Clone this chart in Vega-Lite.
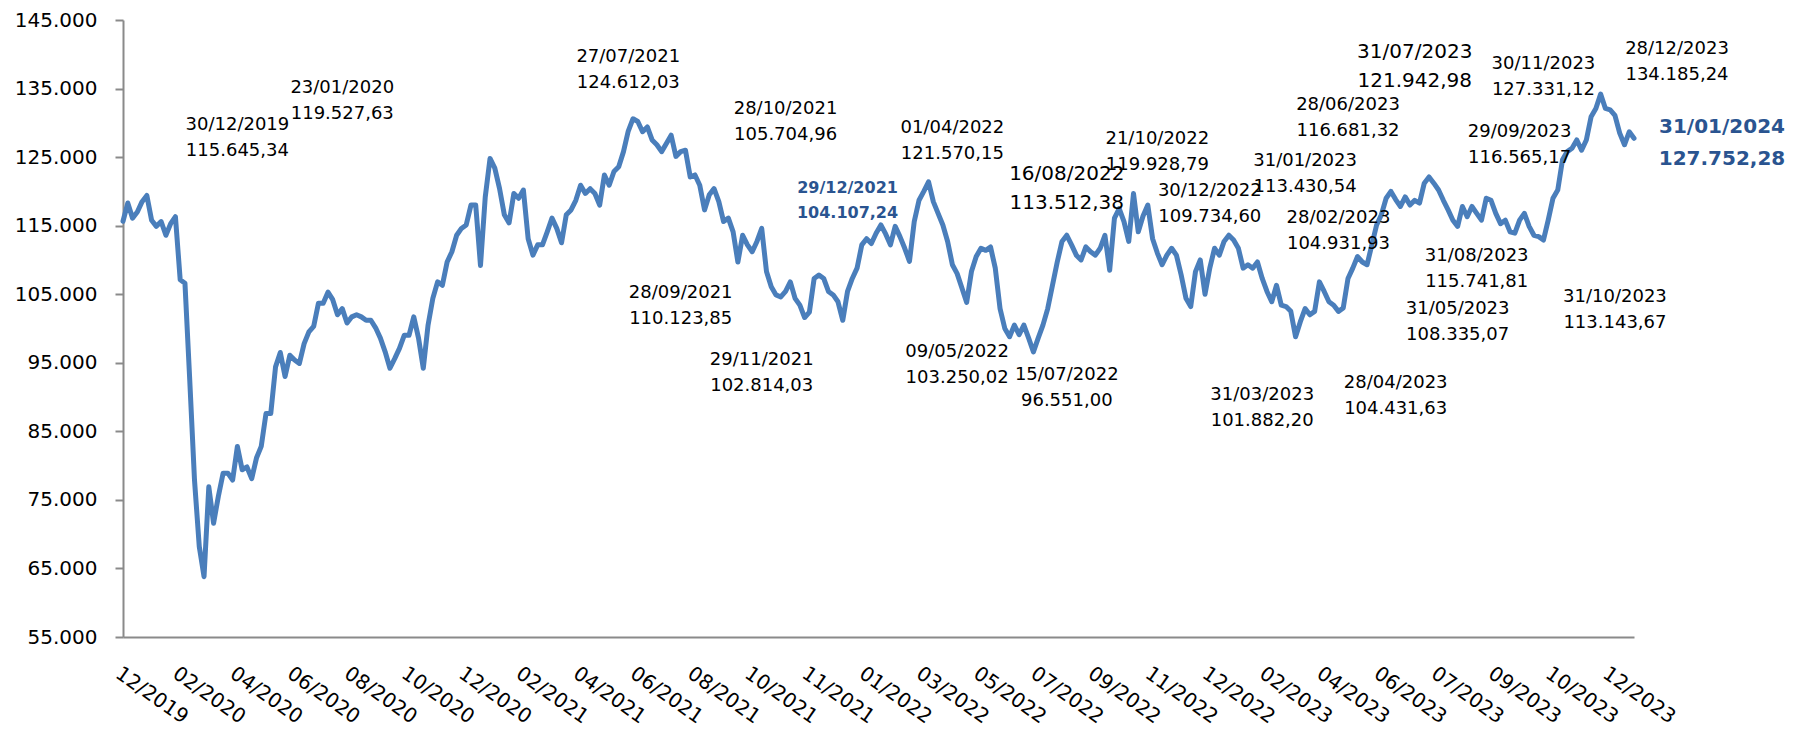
{
  "$schema": "https://vega.github.io/schema/vega-lite/v6.json",
  "width": 1511,
  "height": 617,
  "autosize": {"type": "none"},
  "padding": {"left": 123, "top": 20, "right": 172, "bottom": 92},
  "background": "#ffffff",
  "config": {"view": {"stroke": null}, "font": "DejaVu Sans", "text": {"font": "DejaVu Sans"}},
  "datasets": {
    "ibov": [
      {"date":"2019-12-30","close":115645},{"date":"2020-01-03","close":118300},{"date":"2020-01-08","close":116100},{"date":"2020-01-13","close":117000},{"date":"2020-01-17","close":118500},{"date":"2020-01-22","close":119400},{"date":"2020-01-27","close":115800},{"date":"2020-01-31","close":114900},{"date":"2020-02-05","close":115600},{"date":"2020-02-10","close":113600},{"date":"2020-02-14","close":115300},{"date":"2020-02-20","close":116300},
      {"date":"2020-02-26","close":107100},{"date":"2020-03-02","close":106600},{"date":"2020-03-06","close":92500},{"date":"2020-03-11","close":77900},{"date":"2020-03-16","close":68200},{"date":"2020-03-20","close":63800},{"date":"2020-03-25","close":76900},{"date":"2020-03-30","close":71600},{"date":"2020-04-03","close":75500},{"date":"2020-04-08","close":78900},{"date":"2020-04-13","close":78900},{"date":"2020-04-17","close":77900},
      {"date":"2020-04-22","close":82800},{"date":"2020-04-27","close":79400},{"date":"2020-05-01","close":79800},{"date":"2020-05-06","close":78100},{"date":"2020-05-11","close":81100},{"date":"2020-05-15","close":82800},{"date":"2020-05-20","close":87600},{"date":"2020-05-25","close":87600},{"date":"2020-05-29","close":94400},{"date":"2020-06-03","close":96500},{"date":"2020-06-08","close":93000},{"date":"2020-06-12","close":96100},
      {"date":"2020-06-17","close":95400},{"date":"2020-06-22","close":94900},{"date":"2020-06-26","close":97800},{"date":"2020-07-01","close":99500},{"date":"2020-07-06","close":100300},{"date":"2020-07-10","close":103700},{"date":"2020-07-15","close":103700},{"date":"2020-07-20","close":105300},{"date":"2020-07-24","close":104200},{"date":"2020-07-29","close":102000},{"date":"2020-08-03","close":102900},{"date":"2020-08-07","close":100800},
      {"date":"2020-08-12","close":101700},{"date":"2020-08-17","close":102000},{"date":"2020-08-21","close":101700},{"date":"2020-08-26","close":101200},{"date":"2020-08-31","close":101200},{"date":"2020-09-04","close":100100},{"date":"2020-09-09","close":98600},{"date":"2020-09-14","close":96600},{"date":"2020-09-18","close":94200},{"date":"2020-09-23","close":95600},{"date":"2020-09-28","close":97100},{"date":"2020-10-02","close":99000},
      {"date":"2020-10-07","close":99000},{"date":"2020-10-12","close":101700},{"date":"2020-10-16","close":98600},{"date":"2020-10-21","close":94200},{"date":"2020-10-26","close":100500},{"date":"2020-10-30","close":104400},{"date":"2020-11-04","close":106800},{"date":"2020-11-09","close":106300},{"date":"2020-11-13","close":109700},{"date":"2020-11-18","close":111200},{"date":"2020-11-23","close":113600},{"date":"2020-11-28","close":114600},
      {"date":"2020-12-03","close":115100},{"date":"2020-12-08","close":118000},{"date":"2020-12-13","close":118000},{"date":"2020-12-18","close":109200},{"date":"2020-12-23","close":119200},{"date":"2020-12-28","close":124800},{"date":"2021-01-02","close":123400},{"date":"2021-01-07","close":120400},{"date":"2021-01-12","close":116600},{"date":"2021-01-17","close":115400},{"date":"2021-01-22","close":119700},{"date":"2021-01-27","close":119000},
      {"date":"2021-02-02","close":120200},{"date":"2021-02-07","close":113100},{"date":"2021-02-12","close":110700},{"date":"2021-02-17","close":112200},{"date":"2021-02-21","close":112200},{"date":"2021-02-26","close":114100},{"date":"2021-03-03","close":116100},{"date":"2021-03-08","close":114600},{"date":"2021-03-12","close":112500},{"date":"2021-03-17","close":116600},{"date":"2021-03-22","close":117300},{"date":"2021-03-27","close":118700},
      {"date":"2021-04-01","close":120900},{"date":"2021-04-07","close":119700},{"date":"2021-04-12","close":120400},{"date":"2021-04-18","close":119700},{"date":"2021-04-24","close":118000},{"date":"2021-04-29","close":122400},{"date":"2021-05-05","close":120900},{"date":"2021-05-11","close":122900},{"date":"2021-05-16","close":123600},{"date":"2021-05-22","close":125800},{"date":"2021-05-27","close":128800},{"date":"2021-06-02","close":130600},
      {"date":"2021-06-08","close":130200},{"date":"2021-06-13","close":128700},{"date":"2021-06-17","close":129400},{"date":"2021-06-22","close":127500},{"date":"2021-06-27","close":126800},{"date":"2021-07-01","close":125800},{"date":"2021-07-06","close":127000},{"date":"2021-07-11","close":128200},{"date":"2021-07-15","close":125100},{"date":"2021-07-20","close":125800},{"date":"2021-07-25","close":126000},{"date":"2021-07-29","close":122100},
      {"date":"2021-08-03","close":122400},{"date":"2021-08-08","close":120900},{"date":"2021-08-13","close":117300},{"date":"2021-08-18","close":119500},{"date":"2021-08-23","close":120400},{"date":"2021-08-28","close":118500},{"date":"2021-09-02","close":115600},{"date":"2021-09-07","close":116100},{"date":"2021-09-12","close":114100},{"date":"2021-09-17","close":109700},{"date":"2021-09-22","close":113600},{"date":"2021-09-26","close":112200},
      {"date":"2021-10-01","close":111200},{"date":"2021-10-06","close":112700},{"date":"2021-10-10","close":114600},{"date":"2021-10-15","close":108300},{"date":"2021-10-20","close":106100},{"date":"2021-10-24","close":104900},{"date":"2021-10-29","close":104600},{"date":"2021-11-03","close":105400},{"date":"2021-11-07","close":106800},{"date":"2021-11-12","close":104400},{"date":"2021-11-17","close":103400},{"date":"2021-11-21","close":101600},
      {"date":"2021-11-26","close":102400},{"date":"2021-12-01","close":107300},{"date":"2021-12-06","close":107800},{"date":"2021-12-11","close":107300},{"date":"2021-12-16","close":105400},{"date":"2021-12-21","close":104900},{"date":"2021-12-26","close":103900},{"date":"2021-12-31","close":101200},{"date":"2022-01-05","close":105400},{"date":"2022-01-10","close":107300},{"date":"2022-01-14","close":108800},{"date":"2022-01-19","close":112200},
      {"date":"2022-01-24","close":113100},{"date":"2022-01-29","close":112400},{"date":"2022-02-02","close":113900},{"date":"2022-02-07","close":115100},{"date":"2022-02-12","close":113800},{"date":"2022-02-16","close":112200},{"date":"2022-02-21","close":114900},{"date":"2022-02-26","close":113400},{"date":"2022-03-02","close":111700},{"date":"2022-03-07","close":109800},{"date":"2022-03-12","close":115600},{"date":"2022-03-16","close":118700},
      {"date":"2022-03-21","close":120000},{"date":"2022-03-26","close":121400},{"date":"2022-03-30","close":118500},{"date":"2022-04-04","close":116800},{"date":"2022-04-09","close":115100},{"date":"2022-04-13","close":112700},{"date":"2022-04-18","close":109300},{"date":"2022-04-23","close":108000},{"date":"2022-04-27","close":105900},{"date":"2022-05-02","close":103800},{"date":"2022-05-07","close":108300},{"date":"2022-05-11","close":110500},
      {"date":"2022-05-16","close":111700},{"date":"2022-05-21","close":111400},{"date":"2022-05-26","close":111900},{"date":"2022-05-31","close":108800},{"date":"2022-06-05","close":102900},{"date":"2022-06-10","close":100000},{"date":"2022-06-15","close":98800},{"date":"2022-06-19","close":100500},{"date":"2022-06-24","close":99100},{"date":"2022-06-29","close":100500},{"date":"2022-07-04","close":98600},{"date":"2022-07-09","close":96600},
      {"date":"2022-07-14","close":98600},{"date":"2022-07-19","close":100500},{"date":"2022-07-23","close":102900},{"date":"2022-07-28","close":106300},{"date":"2022-08-02","close":109700},{"date":"2022-08-06","close":112700},{"date":"2022-08-11","close":113600},{"date":"2022-08-16","close":112200},{"date":"2022-08-20","close":110700},{"date":"2022-08-25","close":110000},{"date":"2022-08-30","close":111900},{"date":"2022-09-03","close":111200},
      {"date":"2022-09-08","close":110700},{"date":"2022-09-13","close":111700},{"date":"2022-09-17","close":113600},{"date":"2022-09-22","close":108500},{"date":"2022-09-27","close":116100},{"date":"2022-10-01","close":117500},{"date":"2022-10-06","close":115600},{"date":"2022-10-11","close":112700},{"date":"2022-10-15","close":119700},{"date":"2022-10-20","close":114100},{"date":"2022-10-25","close":116400},{"date":"2022-10-29","close":118000},
      {"date":"2022-11-03","close":113100},{"date":"2022-11-08","close":111000},{"date":"2022-11-12","close":109300},{"date":"2022-11-17","close":110700},{"date":"2022-11-21","close":111700},{"date":"2022-11-26","close":110700},{"date":"2022-11-30","close":107800},{"date":"2022-12-05","close":104400},{"date":"2022-12-09","close":103200},{"date":"2022-12-14","close":108300},{"date":"2022-12-18","close":110000},{"date":"2022-12-23","close":105000},
      {"date":"2022-12-28","close":108800},{"date":"2023-01-02","close":111700},{"date":"2023-01-07","close":110700},{"date":"2023-01-12","close":112700},{"date":"2023-01-16","close":113600},{"date":"2023-01-21","close":112900},{"date":"2023-01-26","close":111700},{"date":"2023-01-31","close":108800},{"date":"2023-02-05","close":109300},{"date":"2023-02-10","close":108800},{"date":"2023-02-14","close":109700},{"date":"2023-02-19","close":107300},
      {"date":"2023-02-24","close":105400},{"date":"2023-03-01","close":103900},{"date":"2023-03-05","close":106300},{"date":"2023-03-10","close":103400},{"date":"2023-03-14","close":103200},{"date":"2023-03-19","close":102500},{"date":"2023-03-23","close":98800},{"date":"2023-03-28","close":101000},{"date":"2023-04-01","close":102900},{"date":"2023-04-06","close":102000},{"date":"2023-04-10","close":102500},{"date":"2023-04-15","close":106800},
      {"date":"2023-04-20","close":105400},{"date":"2023-04-25","close":103900},{"date":"2023-04-29","close":103400},{"date":"2023-05-04","close":102500},{"date":"2023-05-09","close":103000},{"date":"2023-05-13","close":107300},{"date":"2023-05-18","close":108800},{"date":"2023-05-23","close":110500},{"date":"2023-05-27","close":109700},{"date":"2023-06-01","close":109300},{"date":"2023-06-06","close":112200},{"date":"2023-06-10","close":115100},
      {"date":"2023-06-15","close":116600},{"date":"2023-06-19","close":119000},{"date":"2023-06-23","close":120000},{"date":"2023-06-27","close":118800},{"date":"2023-06-30","close":117800},{"date":"2023-07-04","close":119200},{"date":"2023-07-08","close":118000},{"date":"2023-07-12","close":118700},{"date":"2023-07-15","close":118300},{"date":"2023-07-19","close":121200},{"date":"2023-07-23","close":122100},{"date":"2023-07-27","close":121200},
      {"date":"2023-07-31","close":120200},{"date":"2023-08-04","close":118700},{"date":"2023-08-09","close":117300},{"date":"2023-08-13","close":115800},{"date":"2023-08-18","close":114900},{"date":"2023-08-22","close":117800},{"date":"2023-08-26","close":116300},{"date":"2023-08-31","close":117800},{"date":"2023-09-04","close":116800},{"date":"2023-09-09","close":115800},{"date":"2023-09-13","close":119000},{"date":"2023-09-18","close":118700},
      {"date":"2023-09-22","close":116800},{"date":"2023-09-25","close":115300},{"date":"2023-09-28","close":115800},{"date":"2023-10-01","close":114100},{"date":"2023-10-04","close":113900},{"date":"2023-10-08","close":115800},{"date":"2023-10-11","close":116800},{"date":"2023-10-14","close":114900},{"date":"2023-10-17","close":113600},{"date":"2023-10-21","close":113400},{"date":"2023-10-24","close":112900},{"date":"2023-10-27","close":115800},
      {"date":"2023-10-31","close":119000},{"date":"2023-11-04","close":120200},{"date":"2023-11-08","close":124600},{"date":"2023-11-12","close":125800},{"date":"2023-11-16","close":126300},{"date":"2023-11-20","close":127500},{"date":"2023-11-24","close":126000},{"date":"2023-11-28","close":127500},{"date":"2023-12-02","close":130900},{"date":"2023-12-06","close":132100},{"date":"2023-12-10","close":134200},{"date":"2023-12-15","close":132100},
      {"date":"2023-12-20","close":131900},{"date":"2023-12-28","close":131100},{"date":"2024-01-05","close":128500},{"date":"2024-01-13","close":126800},{"date":"2024-01-22","close":128700},{"date":"2024-01-31","close":127752}
    ],
    "notes": [
      {"date":"2020-04-22","level":128950,"label":"30/12/2019\n115.645,34"},
      {"date":"2020-08-03","level":134350,"label":"23/01/2020\n119.527,63"},
      {"date":"2021-05-27","level":138870,"label":"27/07/2021\n124.612,03"},
      {"date":"2021-11-03","level":131290,"label":"28/10/2021\n105.704,96"},
      {"date":"2021-07-20","level":104450,"label":"28/09/2021\n110.123,85"},
      {"date":"2021-10-10","level":94670,"label":"29/11/2021\n102.814,03"},
      {"date":"2022-04-18","level":128520,"label":"01/04/2022\n121.570,15"},
      {"date":"2022-04-23","level":95840,"label":"09/05/2022\n103.250,02"},
      {"date":"2022-08-11","level":92480,"label":"15/07/2022\n96.551,00"},
      {"date":"2022-11-08","level":126910,"label":"21/10/2022\n119.928,79"},
      {"date":"2022-12-28","level":119330,"label":"30/12/2022\n109.734,60"},
      {"date":"2023-04-01","level":123700,"label":"31/01/2023\n113.430,54"},
      {"date":"2023-05-04","level":115390,"label":"28/02/2023\n104.931,93"},
      {"date":"2023-05-13","level":131870,"label":"28/06/2023\n116.681,32"},
      {"date":"2023-02-19","level":89570,"label":"31/03/2023\n101.882,20"},
      {"date":"2023-06-27","level":91320,"label":"28/04/2023\n104.431,63"},
      {"date":"2023-10-24","level":137850,"label":"30/11/2023\n127.331,12"},
      {"date":"2023-10-08","level":127930,"label":"29/09/2023\n116.565,17"},
      {"date":"2023-09-04","level":109840,"label":"31/08/2023\n115.741,81"},
      {"date":"2023-08-18","level":102110,"label":"31/05/2023\n108.335,07"},
      {"date":"2023-12-28","level":103860,"label":"31/10/2023\n113.143,67"}
    ],
    "notesLarge": [
      {"date":"2022-08-11","level":121660,"label":"16/08/2022\n113.512,38"},
      {"date":"2023-07-12","level":139460,"label":"31/07/2023\n121.942,98"}
    ],
    "noteHighlight": [
      {"date":"2022-01-05","level":119760,"label":"29/12/2021\n104.107,24"}
    ],
    "noteDecember": [
      {"date":"2024-01-31","level":140040,"label":"28/12/2023\n134.185,24"}
    ],
    "noteLast": [
      {"date":"2024-01-31","level":128520,"label":"31/01/2024\n127.752,28"}
    ]
  },
  "layer": [
    {
      "data": {"name": "ibov"},
      "mark": {"type": "line", "color": "#4A7EBB", "strokeWidth": 5, "strokeJoin": "round", "strokeCap": "round"},
      "encoding": {
        "x": {
          "field": "date", "type": "ordinal",
          "scale": {"type": "point", "padding": 0},
          "axis": {
            "title": null,
            "values": ["2019-12-30","2020-02-26","2020-04-22","2020-06-17","2020-08-12","2020-10-07","2020-12-03","2021-02-02","2021-04-01","2021-06-08","2021-08-03","2021-10-01","2021-11-26","2022-01-24","2022-03-21","2022-05-16","2022-07-14","2022-09-08","2022-11-03","2022-12-28","2023-02-24","2023-04-20","2023-06-15","2023-07-31","2023-09-22","2023-10-31","2023-12-20"],
            "labelExpr": "slice(datum.value, 5, 7) + '/' + slice(datum.value, 0, 4)",
            "labelAngle": 35,
            "labelAlign": "left",
            "labelBaseline": "top",
            "labelFont": "DejaVu Sans",
            "labelFontSize": 20,
            "labelColor": "#000000",
            "labelPadding": 26,
            "labelOverlap": false,
            "labelBound": false,
            "labelFlush": false,
            "ticks": false,
            "tickSize": 0,
            "grid": false,
            "domainColor": "#8a8a8a",
            "domainWidth": 2
          }
        },
        "y": {
          "field": "close", "type": "quantitative",
          "scale": {"domain": [55000, 145000], "nice": false, "zero": false},
          "axis": {
            "title": null,
            "values": [55000, 65000, 75000, 85000, 95000, 105000, 115000, 125000, 135000, 145000],
            "labelExpr": "replace(format(datum.value, ','), ',', '.')",
            "labelFont": "DejaVu Sans",
            "labelFontSize": 20,
            "labelColor": "#000000",
            "labelPadding": 18,
            "tickSize": 8,
            "tickColor": "#8a8a8a",
            "tickWidth": 2,
            "grid": false,
            "domainColor": "#8a8a8a",
            "domainWidth": 2
          }
        }
      }
    },
    {
      "data": {"name": "notes"},
      "mark": {"type": "text", "font": "DejaVu Sans", "fontSize": 18, "color": "#000000", "align": "center", "baseline": "alphabetic", "lineBreak": "\n", "lineHeight": 26},
      "encoding": {
        "x": {"field": "date", "type": "ordinal"},
        "y": {"field": "level", "type": "quantitative"},
        "text": {"field": "label"}
      }
    },
    {
      "data": {"name": "notesLarge"},
      "mark": {"type": "text", "font": "DejaVu Sans", "fontSize": 20, "color": "#000000", "align": "center", "baseline": "alphabetic", "lineBreak": "\n", "lineHeight": 29},
      "encoding": {
        "x": {"field": "date", "type": "ordinal"},
        "y": {"field": "level", "type": "quantitative"},
        "text": {"field": "label"}
      }
    },
    {
      "data": {"name": "noteHighlight"},
      "mark": {"type": "text", "font": "DejaVu Sans", "fontSize": 16, "fontWeight": "bold", "color": "#2A5490", "align": "center", "baseline": "alphabetic", "lineBreak": "\n", "lineHeight": 25},
      "encoding": {
        "x": {"field": "date", "type": "ordinal"},
        "y": {"field": "level", "type": "quantitative"},
        "text": {"field": "label"}
      }
    },
    {
      "data": {"name": "noteDecember"},
      "mark": {"type": "text", "font": "DejaVu Sans", "fontSize": 18, "color": "#000000", "align": "center", "baseline": "alphabetic", "lineBreak": "\n", "lineHeight": 26, "dx": 43},
      "encoding": {
        "x": {"field": "date", "type": "ordinal"},
        "y": {"field": "level", "type": "quantitative"},
        "text": {"field": "label"}
      }
    },
    {
      "data": {"name": "noteLast"},
      "mark": {"type": "text", "font": "DejaVu Sans", "fontSize": 20, "fontWeight": "bold", "color": "#2A5490", "align": "center", "baseline": "alphabetic", "lineBreak": "\n", "lineHeight": 32, "dx": 88},
      "encoding": {
        "x": {"field": "date", "type": "ordinal"},
        "y": {"field": "level", "type": "quantitative"},
        "text": {"field": "label"}
      }
    }
  ]
}
